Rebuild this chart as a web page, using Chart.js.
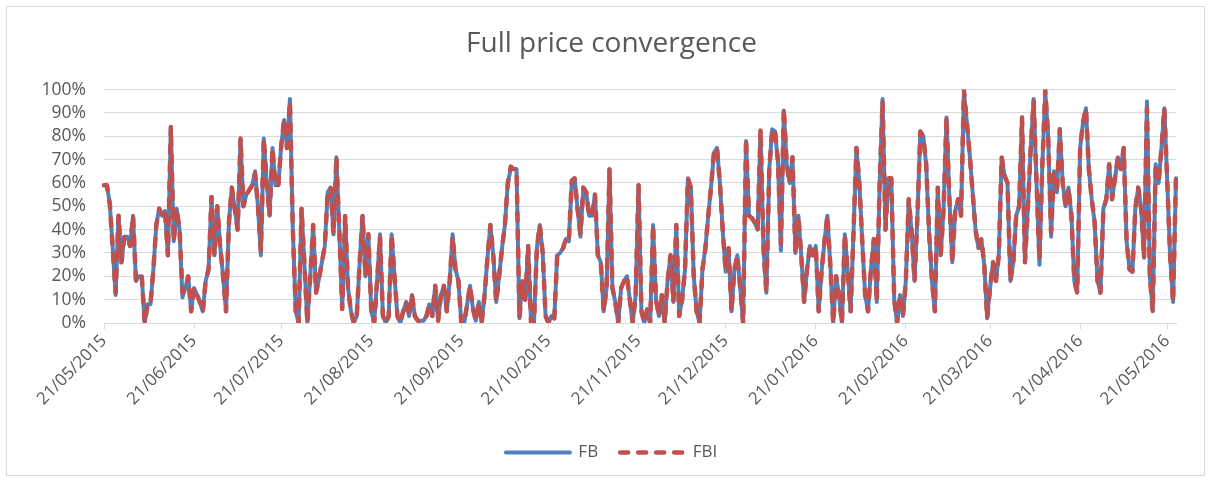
<!DOCTYPE html>
<html>
<head>
<meta charset="utf-8">
<script src="https://cdn.jsdelivr.net/npm/chart.js@4"></script>
<style>
  html, body { margin: 0; padding: 0; background: #fff; }
  #box { position: absolute; left: 6px; top: 6px; width: 1197px; height: 468px; border: 1px solid #d9d9d9; }
  canvas { display: block; }
</style>
</head>
<body>
<div id="box"><canvas id="chart" width="1197" height="468"></canvas></div>
<script>
// daily points from 21/05/2015, values in %
const startDate = new Date(2015, 4, 21);

const fb = [
  59, 59, 51, 32, 12, 46, 26, 37, 37, 33,
  46, 18, 20, 20, 0, 8, 8, 23, 42, 49,
  46, 48, 29, 83, 35, 49, 40, 11, 15, 20,
  5, 15, 12, 9, 5, 18, 23, 54, 29, 50,
  33, 20, 5, 43, 58, 49, 40, 78, 50, 55,
  57, 59, 65, 50, 29, 79, 60, 46, 75, 59,
  59, 76, 87, 75, 96, 40, 5, 0, 49, 25,
  0, 20, 42, 13, 19, 26, 33, 56, 58, 38,
  71, 39, 6, 46, 15, 5, 0, 3, 26, 46,
  20, 38, 5, 0, 18, 38, 3, 0, 3, 38,
  20, 3, 0, 5, 9, 3, 12, 3, 1, 1,
  1, 3, 8, 3, 16, 1, 12, 16, 5, 18,
  38, 23, 18, 0, 0, 8, 16, 6, 1, 9,
  0, 12, 28, 42, 29, 9, 20, 32, 42, 60,
  66, 66, 66, 2, 18, 10, 33, 0, 0, 32,
  42, 30, 3, 0, 3, 2, 29, 30, 32, 36,
  35, 60, 62, 49, 37, 58, 56, 46, 46, 55,
  29, 26, 5, 15, 66, 15, 9, 0, 15, 18,
  20, 10, 0, 12, 59, 5, 0, 6, 0, 42,
  10, 3, 12, 0, 18, 29, 9, 42, 3, 10,
  23, 62, 58, 20, 5, 0, 23, 32, 46, 59,
  73, 75, 60, 39, 22, 32, 5, 23, 29, 15,
  0, 78, 46, 45, 43, 40, 82, 32, 13, 66,
  83, 82, 69, 31, 91, 68, 60, 71, 30, 46,
  29, 9, 23, 33, 29, 33, 5, 22, 35, 46,
  25, 0, 20, 12, 0, 38, 22, 5, 39, 75,
  60, 35, 12, 5, 23, 36, 9, 60, 96, 40,
  62, 62, 10, 0, 12, 3, 18, 53, 39, 18,
  46, 82, 80, 68, 39, 18, 5, 58, 29, 49,
  88, 53, 26, 48, 53, 46, 99, 86, 72, 56,
  40, 32, 36, 25, 2, 15, 26, 18, 29, 71,
  63, 60, 18, 26, 46, 50, 88, 26, 49, 75,
  96, 60, 25, 68, 99, 80, 37, 65, 56, 83,
  60, 50, 58, 46, 18, 13, 75, 86, 92, 66,
  53, 43, 18, 13, 49, 53, 68, 53, 62, 71,
  66, 75, 35, 23, 22, 49, 58, 49, 28, 95,
  20, 5, 68, 60, 75, 92, 60, 28, 9, 62
];

const fbi = [
  59, 59, 51, 32, 13, 46, 26, 37, 37, 33,
  46, 18, 20, 20, 0, 8, 8, 23, 42, 49,
  46, 48, 29, 84, 35, 49, 40, 13, 15, 20,
  5, 15, 12, 9, 5, 18, 23, 54, 29, 50,
  33, 20, 5, 43, 58, 49, 40, 79, 50, 55,
  57, 59, 64, 50, 31, 79, 60, 46, 75, 59,
  59, 76, 87, 75, 95, 40, 5, 0, 49, 25,
  0, 20, 42, 13, 19, 26, 33, 56, 58, 38,
  71, 39, 6, 46, 15, 5, 0, 3, 26, 46,
  20, 38, 5, 0, 18, 37, 3, 0, 3, 38,
  20, 3, 0, 5, 9, 3, 12, 3, 1, 1,
  1, 3, 8, 3, 16, 1, 12, 16, 5, 18,
  37, 23, 18, 0, 0, 8, 16, 6, 1, 9,
  0, 12, 28, 42, 29, 9, 20, 32, 42, 60,
  67, 66, 66, 2, 18, 10, 33, 0, 0, 32,
  42, 30, 3, 0, 3, 2, 29, 30, 32, 36,
  35, 61, 62, 49, 38, 58, 56, 46, 46, 55,
  29, 26, 5, 15, 66, 15, 9, 0, 15, 18,
  20, 10, 0, 12, 59, 5, 0, 6, 0, 42,
  10, 3, 12, 0, 18, 29, 9, 42, 3, 10,
  23, 62, 58, 20, 5, 0, 23, 32, 46, 59,
  74, 75, 60, 39, 22, 32, 5, 23, 29, 15,
  0, 79, 46, 45, 43, 40, 83, 32, 13, 66,
  83, 82, 69, 34, 92, 68, 60, 71, 30, 46,
  29, 9, 23, 33, 29, 33, 5, 22, 35, 46,
  25, 0, 20, 12, 0, 38, 22, 5, 39, 75,
  60, 35, 12, 5, 23, 36, 9, 60, 95, 40,
  62, 62, 10, 0, 12, 3, 18, 53, 39, 18,
  46, 82, 80, 68, 39, 18, 5, 58, 29, 49,
  88, 53, 26, 48, 53, 46, 100, 86, 72, 56,
  40, 32, 36, 25, 2, 15, 26, 18, 29, 71,
  63, 60, 18, 26, 46, 50, 88, 26, 49, 75,
  95, 60, 27, 68, 100, 80, 39, 65, 56, 83,
  60, 50, 58, 46, 18, 13, 75, 86, 92, 66,
  53, 43, 18, 13, 49, 53, 68, 53, 62, 71,
  66, 75, 35, 23, 22, 49, 58, 49, 28, 92,
  20, 5, 68, 60, 75, 92, 60, 28, 9, 63
];

const dates = [];
for (let i = 0; i < fb.length; i++) {
  const d = new Date(startDate.getFullYear(), startDate.getMonth(), startDate.getDate() + i);
  const dd = String(d.getDate()).padStart(2, '0');
  const mm = String(d.getMonth() + 1).padStart(2, '0');
  dates.push(dd + '/' + mm + '/' + d.getFullYear());
}

const textColor = '#595959';
const gridColor = '#d9d9d9';
const isLabelDay = i => dates[i] && dates[i].startsWith('21/');

new Chart(document.getElementById('chart'), {
  type: 'line',
  data: {
    labels: dates,
    datasets: [
      {
        label: 'FB',
        data: fb,
        borderColor: '#4f81bd',
        borderWidth: 4,
        borderCapStyle: 'round',
        borderJoinStyle: 'round',
        pointRadius: 0,
        tension: 0,
        order: 2
      },
      {
        label: 'FBI',
        data: fbi,
        borderColor: '#c0504d',
        borderWidth: 4.5,
        borderDash: [8, 10],
        borderCapStyle: 'round',
        borderJoinStyle: 'round',
        pointRadius: 0,
        tension: 0,
        order: 1
      }
    ]
  },
  options: {
    responsive: false,
    animation: false,
    layout: { padding: { top: 4, right: 8, bottom: 4, left: 20 } },
    plugins: {
      title: {
        display: true,
        text: 'Full price convergence',
        color: textColor,
        font: { family: 'Open Sans', size: 28, weight: 'normal' },
        padding: { top: 16, bottom: 29 }
      },
      legend: {
        position: 'bottom',
        labels: {
          usePointStyle: true,
          pointStyleWidth: 64,
          color: textColor,
          font: { family: 'Open Sans', size: 17 },
          padding: 22,
          generateLabels: chart => chart.data.datasets.map((ds, i) => ({
            text: ds.label,
            datasetIndex: i,
            strokeStyle: ds.borderColor,
            fillStyle: ds.borderColor,
            lineWidth: ds.borderWidth,
            lineDash: ds.borderDash || [],
            lineCap: 'round',
            pointStyle: 'line',
            fontColor: textColor,
            hidden: false
          }))
        }
      },
      tooltip: { enabled: false }
    },
    scales: {
      x: {
        type: 'category',
        offset: false,
        grid: {
          drawOnChartArea: false,
          tickLength: 6,
          color: c => isLabelDay(c.index) ? gridColor : 'rgba(0,0,0,0)'
        },
        border: { color: gridColor },
        ticks: {
          autoSkip: false,
          minRotation: 45,
          maxRotation: 45,
          color: textColor,
          font: { family: 'Open Sans', size: 17 },
          padding: 2,
          callback: (v, i) => isLabelDay(i) ? dates[i] : ''
        },
        afterFit: s => { s.height = 99; }
      },
      y: {
        min: 0,
        max: 100,
        grid: { color: gridColor, drawTicks: false },
        border: { display: false },
        ticks: {
          stepSize: 10,
          autoSkip: false,
          color: textColor,
          font: { family: 'Open Sans', size: 17.5 },
          padding: 18,
          callback: v => v + '%'
        },
        afterFit: s => { s.width = 77; }
      },
      // empty strip on the right, keeps the plot inset like the original
      y2: {
        position: 'right',
        grid: { display: false },
        border: { display: false },
        ticks: { display: false },
        afterFit: s => { s.width = 20; }
      }
    }
  }
});
</script>
</body>
</html>
